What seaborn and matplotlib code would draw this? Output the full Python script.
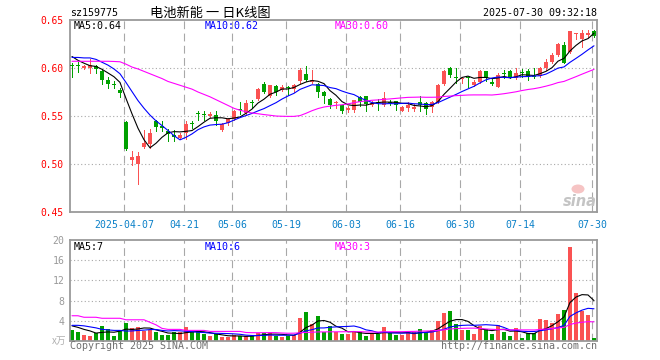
import numpy as np
import pandas as pd
import matplotlib
matplotlib.use("Agg")
import matplotlib.pyplot as plt
from matplotlib.patches import Ellipse
import seaborn as sns

# ---------------- data ----------------
holidays = ["2025-04-04", "2025-05-01", "2025-05-02", "2025-05-05", "2025-06-02"]
all_days = pd.bdate_range("2025-03-24", "2025-07-30")
dates = all_days[~all_days.isin(pd.to_datetime(holidays))]

open_ = [
    0.6022, 0.6022, 0.5998, 0.6000, 0.6020, 0.5965, 0.5880, 0.5825, 0.5767, 0.5434,
    0.5042, 0.5004, 0.5180, 0.5210, 0.5450, 0.5382, 0.5348, 0.5300, 0.5270, 0.5320,
    0.5425, 0.5525, 0.5512, 0.5505, 0.5510, 0.5350, 0.5427, 0.5470, 0.5567, 0.5531,
    0.5643, 0.5680, 0.5837, 0.5705, 0.5816, 0.5767, 0.5795, 0.5781, 0.5868, 0.5941,
    0.5854, 0.5837, 0.5747, 0.5680, 0.5632, 0.5611, 0.5566, 0.5559, 0.5694, 0.5705,
    0.5611, 0.5636, 0.5618, 0.5643, 0.5653, 0.5556, 0.5583, 0.5570, 0.5650, 0.5639,
    0.5590, 0.5649, 0.5833, 0.5997, 0.5894, 0.5890, 0.5894, 0.5823, 0.5858, 0.5969,
    0.5858, 0.5806, 0.5935, 0.5969, 0.5892, 0.5945, 0.5969, 0.5912, 0.5917, 0.5997,
    0.6066, 0.6135, 0.6240, 0.6170, 0.6352, 0.6302, 0.6344, 0.6385]
close = [
    0.6020, 0.6020, 0.6017, 0.6035, 0.5990, 0.5870, 0.5830, 0.5820, 0.5740, 0.5156,
    0.5069, 0.5080, 0.5220, 0.5320, 0.5390, 0.5380, 0.5316, 0.5280, 0.5306, 0.5420,
    0.5420, 0.5522, 0.5510, 0.5510, 0.5445, 0.5420, 0.5469, 0.5550, 0.5565, 0.5636,
    0.5640, 0.5785, 0.5750, 0.5820, 0.5750, 0.5799, 0.5790, 0.5826, 0.5976, 0.5878,
    0.5878, 0.5750, 0.5705, 0.5611, 0.5635, 0.5549, 0.5583, 0.5663, 0.5643, 0.5625,
    0.5636, 0.5634, 0.5688, 0.5640, 0.5611, 0.5590, 0.5618, 0.5590, 0.5615, 0.5569,
    0.5649, 0.5823, 0.5972, 0.5927, 0.5892, 0.5894, 0.5892, 0.5858, 0.5972, 0.5892,
    0.5833, 0.5927, 0.5933, 0.5903, 0.5944, 0.5943, 0.5910, 0.5910, 0.5997, 0.6066,
    0.6135, 0.6247, 0.6056, 0.6385, 0.6354, 0.6368, 0.6368, 0.6337]
high = [
    0.6050, 0.6060, 0.6030, 0.6090, 0.6035, 0.5990, 0.5910, 0.5860, 0.5790, 0.5450,
    0.5138, 0.5122, 0.5351, 0.5368, 0.5460, 0.5450, 0.5365, 0.5350, 0.5320, 0.5452,
    0.5450, 0.5556, 0.5556, 0.5538, 0.5550, 0.5427, 0.5480, 0.5566, 0.5646, 0.5670,
    0.5663, 0.5790, 0.5854, 0.5826, 0.5820, 0.5820, 0.5810, 0.5837, 0.6000, 0.6017,
    0.5983, 0.5844, 0.5757, 0.5688, 0.5660, 0.5618, 0.5600, 0.5670, 0.5705, 0.5712,
    0.5653, 0.5677, 0.5750, 0.5670, 0.5660, 0.5600, 0.5643, 0.5625, 0.5705, 0.5649,
    0.5655, 0.5830, 0.5979, 0.6014, 0.5997, 0.5910, 0.5910, 0.5870, 0.5979, 0.5972,
    0.5892, 0.5944, 0.5979, 0.5979, 0.5997, 0.5986, 0.5986, 0.5997, 0.6014, 0.6090,
    0.6153, 0.6257, 0.6274, 0.6385, 0.6368, 0.6396, 0.6396, 0.6396]
low = [
    0.5910, 0.5955, 0.5990, 0.5950, 0.5950, 0.5830, 0.5790, 0.5790, 0.5700, 0.5150,
    0.4993, 0.4796, 0.5167, 0.5167, 0.5340, 0.5340, 0.5237, 0.5240, 0.5264, 0.5260,
    0.5375, 0.5462, 0.5462, 0.5487, 0.5410, 0.5340, 0.5410, 0.5455, 0.5525, 0.5514,
    0.5583, 0.5670, 0.5740, 0.5695, 0.5722, 0.5757, 0.5715, 0.5750, 0.5844, 0.5861,
    0.5844, 0.5695, 0.5636, 0.5583, 0.5583, 0.5532, 0.5542, 0.5542, 0.5600, 0.5556,
    0.5600, 0.5566, 0.5600, 0.5611, 0.5566, 0.5549, 0.5556, 0.5549, 0.5555, 0.5521,
    0.5545, 0.5640, 0.5823, 0.5903, 0.5840, 0.5840, 0.5806, 0.5815, 0.5840, 0.5868,
    0.5823, 0.5799, 0.5892, 0.5892, 0.5882, 0.5903, 0.5875, 0.5892, 0.5903, 0.5979,
    0.6056, 0.6125, 0.6049, 0.6153, 0.6299, 0.6222, 0.6319, 0.6319]
volume = [  # 万
    2.2, 1.87, 1.2, 1.07, 1.5, 2.9, 2.3, 0.9, 2.2, 3.5,
    2.5, 2.8, 1.9, 2.1, 1.7, 1.1, 1.1, 1.7, 1.7, 2.7,
    1.7, 1.7, 1.3, 0.9, 1.4, 0.8, 0.8, 1.1, 0.9, 1.0,
    1.0, 1.6, 1.6, 1.6, 1.0, 0.8, 1.0, 1.2, 4.6, 5.7,
    3.3, 5.0, 1.7, 2.9, 1.7, 1.4, 1.4, 2.0, 1.7, 1.0,
    1.4, 1.4, 2.8, 1.5, 1.2, 1.2, 1.7, 1.7, 2.4, 1.7,
    2.2, 4.0, 5.6, 6.0, 3.4, 2.2, 2.2, 1.4, 2.9, 2.4,
    1.4, 3.2, 1.7, 1.0, 2.6, 0.6, 1.5, 1.5, 4.4, 4.2,
    3.6, 5.4, 6.2, 18.7, 9.6, 6.0, 5.1, 0.6]

# moving-average values at the left edge (history before the first candle)
ma5_head = [0.612, 0.608, 0.605, 0.6024]
ma10_head = [0.611, 0.611, 0.6105, 0.6105, 0.609, 0.606, 0.603, 0.599, 0.594]
ma30_head = [0.607, 0.607, 0.607, 0.607, 0.607, 0.607, 0.607, 0.6068, 0.6065, 0.604,
             0.601, 0.599, 0.5965, 0.594, 0.5915, 0.589, 0.586, 0.584, 0.582, 0.580,
             0.578, 0.575, 0.5725, 0.570, 0.567, 0.564, 0.561, 0.558, 0.556]
vma5_head = [3.0, 2.7, 2.3, 2.0]
vma10_head = [3.1, 3.1, 3.0, 2.8, 2.6, 2.3, 2.2, 2.1, 2.1]
vma30_head = [5.0, 5.0, 4.7, 4.7, 4.7, 4.5, 4.5, 4.5, 4.5, 4.2,
              4.2, 4.2, 4.2, 3.7, 3.2, 2.5, 2.3, 2.3, 2.3, 2.1,
              2.1, 2.1, 2.1, 1.9, 1.9, 1.9, 1.9, 1.9, 1.9]

tick_dates = ["2025-04-07", "2025-04-21", "2025-05-06", "2025-05-19", "2025-06-03",
              "2025-06-16", "2025-06-30", "2025-07-14", "2025-07-30"]
tick_labels = ["2025-04-07", "04-21", "05-06", "05-19", "06-03", "06-16", "06-30", "07-14", "07-30"]
price_ticks = [0.45, 0.50, 0.55, 0.60, 0.65]
vol_ticks = [4, 8, 12, 16, 20]
code_text = "sz159775"
title_text = "电池新能 一 日K线图"
time_text = "2025-07-30 09:32:18"
vol_ma_text = ["MA5:7", "MA10:6", "MA30:3"]

# ---------------- derived ----------------
o = np.array(open_); c = np.array(close); h = np.array(high); l = np.array(low)
v = np.array(volume)
x = np.arange(len(c))

def moving(series, n, head):
    m = pd.Series(series).rolling(n).mean().to_numpy()
    m[:n - 1] = head
    return m

ma5, ma10, ma30 = moving(c, 5, ma5_head), moving(c, 10, ma10_head), moving(c, 30, ma30_head)
vma5, vma10, vma30 = moving(v, 5, vma5_head), moving(v, 10, vma10_head), moving(v, 30, vma30_head)

RED = "#fa5252"
GREEN = "#00a000"
up = c >= o
cols = np.where(up, RED, GREEN)
tick_pos = [int(np.where(dates == pd.Timestamp(d))[0][0]) - 0.3 for d in tick_dates]

# ---------------- figure ----------------
sns.set_style("white")
plt.rcParams["font.family"] = ["DejaVu Sans Mono", "Noto Sans CJK SC"]
W, H = 660, 360
fig = plt.figure(figsize=(6.6, 3.6), dpi=100)
fig.patch.set_facecolor("white")

def fx(px): return px / W
def fy(py): return 1 - py / H

ax = fig.add_axes([fx(70), fy(212), fx(597) - fx(70), fy(20) - fy(212)])
axv = fig.add_axes([fx(70), fy(341), fx(597) - fx(70), fy(240) - fy(341)])

GRID = "#a8a8a8"
for a in (ax, axv):
    for s in a.spines.values():
        s.set_color("#9a9a9a"); s.set_linewidth(1.3)
    for t in tick_pos:
        a.axvline(t, color=GRID, lw=0.8, ls=(0, (7, 4)), zorder=0)
    a.set_facecolor("white")

# price panel
ax.vlines(x, l, h, colors=cols, lw=0.72, zorder=2, antialiased=False)
ax.bar(x, np.maximum(np.abs(c - o), 0.0011), bottom=np.minimum(o, c), width=0.8,
       color=cols, linewidth=0, zorder=3, antialiased=False)
sns.lineplot(x=x, y=ma5, ax=ax, color="black", lw=0.8, estimator=None, sort=False, zorder=4)
sns.lineplot(x=x, y=ma10, ax=ax, color="#0000ff", lw=0.8, estimator=None, sort=False, zorder=4)
sns.lineplot(x=x, y=ma30, ax=ax, color="#ff00ff", lw=0.8, estimator=None, sort=False, zorder=4)
ax.set_xlim(-0.33, 87.5)
ax.set_ylim(0.45, 0.65)
for yv in price_ticks[1:-1]:
    ax.axhline(yv, color=GRID, lw=0.8, ls=(0, (1, 2.2)), zorder=0)
ax.set_yticks(price_ticks)
ax.set_yticklabels([f"{t:.2f}" for t in price_ticks], color="#ff0000", fontsize=6.9)
ax.set_xticks(tick_pos)
ax.set_xticklabels(tick_labels, color="#0a80c8", fontsize=7.1)
ax.tick_params(axis="y", length=0, pad=5)
ax.tick_params(axis="x", length=2.5, width=0.8, color="#9a9a9a", pad=3)
ax.set_xlabel(""); ax.set_ylabel("")

# volume panel
axv.bar(x, v, width=0.8, color=cols, linewidth=0, zorder=2, antialiased=False)
sns.lineplot(x=x, y=vma5, ax=axv, color="black", lw=0.8, estimator=None, sort=False, zorder=4)
sns.lineplot(x=x, y=vma10, ax=axv, color="#0000ff", lw=0.8, estimator=None, sort=False, zorder=4)
sns.lineplot(x=x, y=vma30, ax=axv, color="#ff00ff", lw=0.8, estimator=None, sort=False, zorder=4)
axv.set_xlim(-0.33, 87.5)
axv.set_ylim(0, 20)
for yv in vol_ticks[:-1]:
    axv.axhline(yv, color=GRID, lw=0.8, ls=(0, (1, 2.2)), zorder=0)
axv.set_yticks(vol_ticks)
axv.set_yticklabels([str(t) for t in vol_ticks], color="#9a9a9a", fontsize=7.1)
axv.tick_params(axis="y", length=0, pad=4)
axv.set_xticks(tick_pos)
axv.set_xticklabels([])
axv.tick_params(axis="x", length=0)
axv.set_xlabel(""); axv.set_ylabel("")

# texts
fs = 7.2
fig.text(fx(70), fy(13), code_text, ha="left", va="center", fontsize=fs, color="black")
fig.text(fx(150), fy(13), title_text, ha="left", va="center", fontsize=9.5, color="black",
         family=["Noto Sans CJK SC", "DejaVu Sans"])
fig.text(fx(597), fy(13), time_text, ha="right", va="center", fontsize=fs, color="black")
fig.text(fx(74), fy(26), f"MA5:{ma5[-1]:.2f}", ha="left", va="center", fontsize=fs, color="black")
fig.text(fx(205), fy(26), f"MA10:{ma10[-1]:.2f}", ha="left", va="center", fontsize=fs, color="#0000ff")
fig.text(fx(335), fy(26), f"MA30:{ma30[-1]:.2f}", ha="left", va="center", fontsize=fs, color="#ff00ff")
fig.text(fx(74), fy(247), vol_ma_text[0], ha="left", va="center", fontsize=fs, color="black")
fig.text(fx(205), fy(247), vol_ma_text[1], ha="left", va="center", fontsize=fs, color="#0000ff")
fig.text(fx(335), fy(247), vol_ma_text[2], ha="left", va="center", fontsize=fs, color="#ff00ff")
fig.text(fx(66), fy(341), "x万", ha="right", va="center", fontsize=7, color="#b0b0b0",
         family=["Noto Sans CJK SC", "DejaVu Sans"], style="italic")
fig.text(fx(70), fy(346), "Copyright 2025 SINA.COM", ha="left", va="center", fontsize=fs, color="#707070")
fig.text(fx(597), fy(346), "http://finance.sina.com.cn", ha="right", va="center", fontsize=fs, color="#707070")
# sina watermark
fig.add_artist(Ellipse((fx(578), fy(189)), width=13 / W, height=9 / H, facecolor="#f6c4c4",
                       edgecolor="none", transform=fig.transFigure, zorder=5))
fig.text(fx(597), fy(201), "sina", ha="right", va="center", fontsize=10.5, color="#c4c4c4",
         family="DejaVu Sans", style="italic", weight="bold", zorder=5)

fig.savefig("out.png", dpi=100, facecolor="white")
